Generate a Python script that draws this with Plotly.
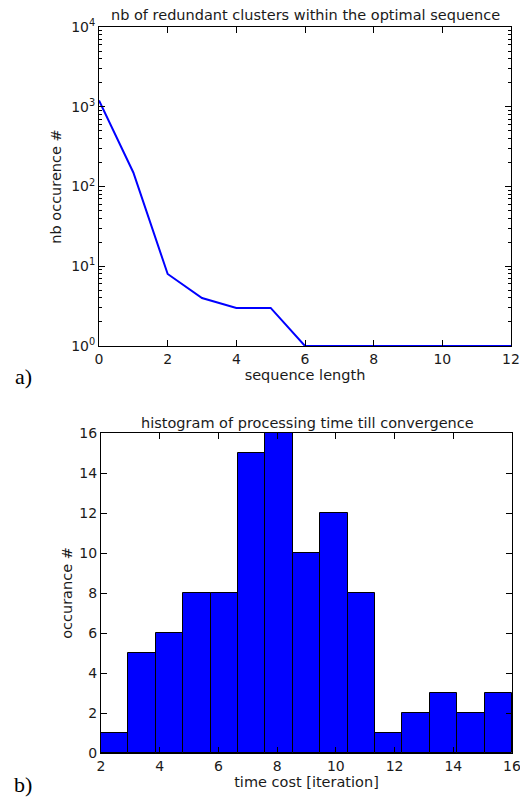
import numpy as np
import plotly.graph_objects as go

# ---- data ----
seq_length = [0, 1, 2, 3, 4, 5, 6, 7, 8, 9, 10, 11, 12]
nb_occurrence = [1200, 150, 8, 4, 3, 3, 1, 1, 1, 1, 1, 1, 1]

hist_counts = [1, 5, 6, 8, 8, 15, 16, 10, 12, 8, 1, 2, 3, 2, 3]
hist_start = 2
hist_end = 16

log_tickvals = [1, 10, 100, 1000, 10000]
log_ticktext = ["10<sup>0</sup>", "10<sup>1</sup>", "10<sup>2</sup>", "10<sup>3</sup>", "10<sup>4</sup>"]

edges = np.linspace(hist_start, hist_end, len(hist_counts) + 1)
centers = (edges[:-1] + edges[1:]) / 2
widths = np.diff(edges)

FONT = "DejaVu Sans"
axcol = "#000000"
TXT = "#1a1a1a"

fig = go.Figure()
fig.add_trace(go.Scatter(x=seq_length, y=nb_occurrence, mode="lines",
                         line=dict(color="#0000ff", width=2), xaxis="x", yaxis="y",
                         showlegend=False))
fig.add_trace(go.Bar(x=centers, y=hist_counts, width=widths,
                     marker=dict(color="#0000ff", line=dict(color="#000000", width=1)),
                     xaxis="x2", yaxis="y2", showlegend=False))

common = dict(showline=True, linecolor=axcol, linewidth=1, mirror="allticks",
              ticks="inside", ticklen=6, tickcolor=axcol, showgrid=False, zeroline=False,
              automargin=False, ticklabeloverflow="allow",
              tickfont=dict(family=FONT, size=14, color=TXT),
              title_font=dict(family=FONT, size=14.5, color=TXT))

fig.update_layout(
    width=520, height=799,
    margin=dict(l=0, r=0, t=0, b=0),
    paper_bgcolor="white", plot_bgcolor="white",
    font=dict(family=FONT, size=14, color=TXT),
    xaxis=dict(domain=[99/520, 511/520], anchor="y", range=[0, 12], dtick=2,
               title=dict(text="sequence length", standoff=4), **common),
    yaxis=dict(domain=[453/799, 772/799], anchor="x", type="log", range=[0, 4],
               tickvals=log_tickvals, ticktext=log_ticktext,
               minor=dict(ticks="inside", ticklen=3, tickcolor=axcol, dtick="D1"),
               title=dict(text="nb occurence #", standoff=6), **common),
    xaxis2=dict(domain=[101/520, 512/520], anchor="y2", range=[2, 16], dtick=2,
                title=dict(text="time cost [iteration]", standoff=4), **common),
    yaxis2=dict(domain=[46/799, 366/799], anchor="x2", range=[0, 16], dtick=2,
                title=dict(text="occurance #", standoff=3), **common),
    bargap=0,
    annotations=[
        dict(text="nb of redundant clusters within the optimal sequence", x=305/520, y=1-15/799,
             xanchor="center", yanchor="middle",
             xref="paper", yref="paper", showarrow=False, font=dict(family=FONT, size=14.5, color=TXT)),
        dict(text="histogram of processing time till convergence", x=307/520, y=1-423/799,
             xanchor="center", yanchor="middle",
             xref="paper", yref="paper", showarrow=False, font=dict(family=FONT, size=14.5, color=TXT)),
        dict(text="a)", x=23/520, y=1-377/799, xanchor="center", yanchor="middle",
             xref="paper", yref="paper", showarrow=False,
             font=dict(family="Liberation Serif", size=22, color="#000")),
        dict(text="b)", x=23/520, y=1-784/799, xanchor="center", yanchor="middle",
             xref="paper", yref="paper", showarrow=False,
             font=dict(family="Liberation Serif", size=22, color="#000")),
    ],
)

fig.write_html("out.html", config={"displayModeBar": False},
               post_script="document.body.style.margin='0px';document.body.style.overflow='hidden';")
